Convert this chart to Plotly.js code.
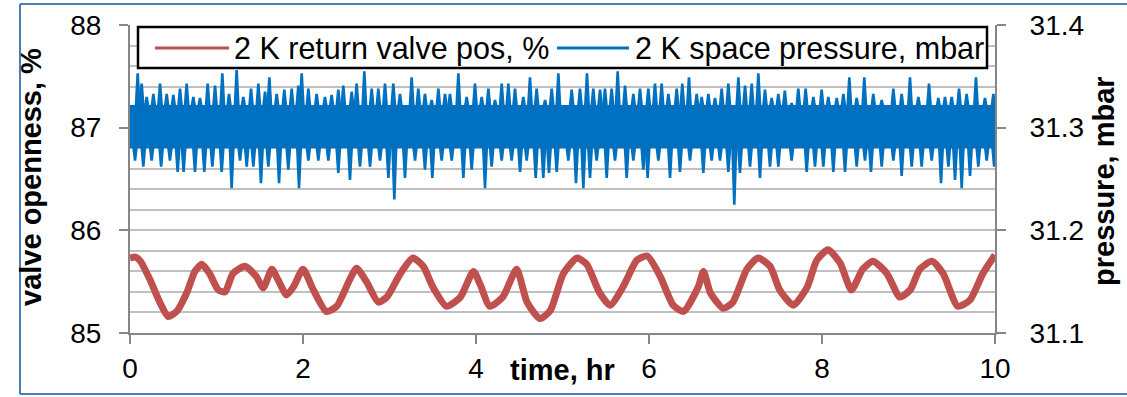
<!DOCTYPE html>
<html>
<head>
<meta charset="utf-8">
<script src="https://cdn.plot.ly/plotly-3.0.1.min.js"></script>
<style>html,body{margin:0;padding:0;background:#fff;}#chart{width:1127px;height:397px;}</style>
</head>
<body>
<div id="chart"></div>
<script>
// ---- data ----
const xTickVals = [0, 2, 4, 6, 8, 10];
const leftTickVals = [85, 86, 87, 88];
const rightTickVals = [31.1, 31.2, 31.3, 31.4];
const seriesNames = ["2 K return valve pos, %", "2 K space pressure, mbar"];
const axisTitles = {x: "time, hr", yLeft: "valve openness, %", yRight: "pressure, mbar"};

// 2 K return valve position (%)
const valveT = [0,0.06,0.12,0.23,0.35,0.44,0.54,0.66,0.75,0.83,0.92,1.02,1.10,1.19,1.33,1.46,1.54,1.64,1.71,1.81,1.89,2.00,2.12,2.27,2.39,2.54,2.62,2.74,2.87,2.97,3.12,3.27,3.39,3.50,3.66,3.82,3.97,4.05,4.16,4.31,4.47,4.59,4.74,4.86,5.01,5.17,5.28,5.43,5.55,5.70,5.86,5.98,6.13,6.28,6.40,6.57,6.63,6.71,6.86,6.97,7.13,7.26,7.40,7.51,7.67,7.83,7.94,8.07,8.21,8.34,8.47,8.59,8.75,8.90,9.02,9.13,9.27,9.40,9.57,9.71,9.86,10.0];
const valvePos = [85.73,85.74,85.70,85.52,85.29,85.16,85.21,85.40,85.60,85.67,85.58,85.42,85.40,85.58,85.65,85.55,85.44,85.62,85.52,85.37,85.45,85.62,85.42,85.21,85.26,85.52,85.63,85.49,85.30,85.35,85.57,85.73,85.65,85.45,85.26,85.35,85.60,85.47,85.26,85.35,85.62,85.30,85.14,85.22,85.58,85.73,85.67,85.39,85.27,85.45,85.71,85.75,85.55,85.27,85.21,85.45,85.60,85.39,85.24,85.30,85.62,85.73,85.65,85.42,85.27,85.45,85.71,85.81,85.68,85.42,85.62,85.70,85.58,85.35,85.42,85.62,85.70,85.58,85.26,85.32,85.58,85.76];

// 2 K space pressure (mbar): dense core band of the noisy trace
const pressCoreT  = [0, 2.5, 5, 7.5, 10];
const pressCoreHi = [31.322, 31.322, 31.322, 31.322, 31.322];
const pressCoreLo = [31.280, 31.280, 31.280, 31.280, 31.280];
// upward spikes (time, peak mbar)
const spikeUpT = [0.089,0.135,0.193,0.270,0.347,0.424,0.501,0.578,0.655,0.732,0.809,0.898,0.983,1.067,1.145,1.233,1.310,1.399,1.484,1.561,1.611,1.696,1.784,1.869,1.946,1.985,2.062,2.158,2.254,2.331,2.408,2.466,
  2.563,2.620,2.709,2.794,2.871,2.948,3.044,3.121,3.256,3.333,3.410,3.487,3.565,3.642,3.699,3.796,3.892,3.988,4.066,4.143,4.220,4.297,4.374,4.451,4.547,4.624,4.701,4.798,4.875,4.952,
  5.106,5.202,5.283,5.356,5.434,5.491,5.568,5.638,5.723,5.819,5.896,5.992,6.069,6.146,6.224,6.320,6.385,6.462,6.551,6.609,6.686,6.763,6.840,6.917,7.033,7.110,7.187,7.264,7.341,7.418,7.495,7.570,
  7.649,7.726,7.811,7.900,7.996,8.073,8.170,8.247,8.316,8.401,8.489,8.593,8.690,8.825,8.921,9.017,9.114,9.237,9.345,9.422,9.499,9.584,9.672,9.780,9.884,9.981];
const spikeUpV = [31.353,31.343,31.330,31.333,31.343,31.333,31.332,31.338,31.343,31.330,31.329,31.343,31.341,31.353,31.333,31.356,31.330,31.338,31.343,31.335,31.349,31.333,31.337,31.338,31.341,31.353,31.338,31.333,31.330,31.332,31.337,31.341,
  31.335,31.343,31.355,31.338,31.338,31.343,31.343,31.333,31.349,31.338,31.333,31.327,31.338,31.333,31.333,31.353,31.330,31.343,31.330,31.338,31.327,31.343,31.343,31.338,31.330,31.349,31.338,31.327,31.338,31.353,
  31.337,31.338,31.353,31.338,31.337,31.338,31.338,31.355,31.341,31.333,31.338,31.338,31.343,31.343,31.333,31.338,31.343,31.349,31.333,31.330,31.333,31.329,31.338,31.343,31.349,31.341,31.343,31.353,31.337,31.329,31.333,31.336,
  31.324,31.338,31.338,31.330,31.337,31.330,31.329,31.333,31.349,31.329,31.349,31.333,31.327,31.338,31.333,31.349,31.330,31.343,31.329,31.330,31.330,31.338,31.333,31.349,31.329,31.333];
// downward spikes (time, trough mbar)
const spikeDownT = [0.058,0.154,0.250,0.360,0.462,0.551,0.620,0.751,0.859,0.952,1.060,1.175,1.272,1.349,1.426,1.514,1.599,1.723,1.830,1.954,2.062,2.177,2.293,2.408,
  2.543,2.659,2.775,2.890,2.987,3.056,3.179,3.295,3.410,3.495,3.603,3.719,3.854,3.950,4.104,4.181,4.297,4.412,4.509,4.586,4.690,4.778,4.844,4.933,
  5.067,5.156,5.241,5.318,5.395,5.511,5.607,5.742,5.819,5.934,5.984,6.108,6.243,6.358,6.474,6.628,6.724,6.821,6.917,6.986,7.052,7.168,7.283,7.399,7.495,
  7.649,7.823,7.919,8.015,8.131,8.266,8.401,8.497,8.566,8.690,8.825,8.921,9.037,9.152,9.268,9.376,9.461,9.538,9.615,9.711,9.807,9.904,9.990];
const spikeDownV = [31.268,31.262,31.268,31.262,31.268,31.257,31.257,31.257,31.257,31.262,31.257,31.241,31.268,31.262,31.262,31.246,31.262,31.246,31.259,31.241,31.268,31.268,31.268,31.256,
  31.249,31.262,31.262,31.268,31.251,31.230,31.251,31.268,31.259,31.251,31.268,31.268,31.251,31.259,31.241,31.262,31.268,31.268,31.257,31.268,31.251,31.251,31.256,31.257,
  31.268,31.246,31.241,31.251,31.268,31.251,31.268,31.251,31.268,31.259,31.251,31.268,31.251,31.257,31.268,31.256,31.268,31.268,31.257,31.225,31.256,31.262,31.251,31.262,31.262,
  31.268,31.257,31.262,31.262,31.257,31.257,31.262,31.268,31.257,31.262,31.268,31.253,31.262,31.262,31.268,31.246,31.262,31.249,31.241,31.253,31.262,31.268,31.262];

// ---- styling ----
const RED = '#C0504D', BLUE = '#0070C0', GRID = '#C0C0C0', AXIS = '#868686';
const FONT = 'Liberation Sans, Arial, sans-serif';
const SPIKE_HALF = 0.022;   // half base width of a spike, hr (style)

// spikes as narrow filled triangles rising from the core band edge to each read peak
const spikeX = [], spikeY = [];
spikeUpT.forEach((t, i) => {
  const b = pressCoreHi[0] - 0.004;
  spikeX.push(t - SPIKE_HALF, t, t + SPIKE_HALF, null); spikeY.push(b, spikeUpV[i], b, null);
});
spikeDownT.forEach((t, i) => {
  const b = pressCoreLo[0] + 0.004;
  spikeX.push(t - SPIKE_HALF, t, t + SPIKE_HALF, null); spikeY.push(b, spikeDownV[i], b, null);
});

const traces = [
  {x: valveT, y: valvePos, name: seriesNames[0], type: 'scatter', mode: 'lines', yaxis: 'y',
   line: {color: RED, width: 7, shape: 'spline', smoothing: 0.6}, hoverinfo: 'skip'},
  {x: pressCoreT, y: pressCoreLo, type: 'scatter', mode: 'lines', yaxis: 'y2', xaxis: 'x',
   line: {color: BLUE, width: 0}, showlegend: false, hoverinfo: 'skip'},
  {x: pressCoreT, y: pressCoreHi, name: seriesNames[1], type: 'scatter', mode: 'lines', yaxis: 'y2',
   fill: 'tonexty', fillcolor: BLUE, line: {color: BLUE, width: 0}, hoverinfo: 'skip'},
  {x: spikeX, y: spikeY, type: 'scatter', mode: 'lines', yaxis: 'y2', connectgaps: false,
   fill: 'toself', fillcolor: BLUE,
   line: {color: BLUE, width: 2.6}, showlegend: false, hoverinfo: 'skip'}
];

const W = 1127, H = 397, L = 130, R = 132, T = 25, B = 64;
const pw = W - L - R, ph = H - T - B;
const px = v => (v - L) / pw;          // pixel -> paper x
const py = v => (H - B - v) / ph;      // pixel -> paper y

const layout = {
  width: W, height: H,
  margin: {l: L, r: R, t: T, b: B, pad: 0},
  paper_bgcolor: '#fff', plot_bgcolor: '#fff',
  showlegend: false,
  font: {family: FONT, size: 28, color: '#000'},
  xaxis: {range: [0, 10], tickvals: xTickVals, ticktext: xTickVals.map(String),
    showgrid: false, zeroline: false, showline: true, linecolor: AXIS, linewidth: 2,
    ticks: 'outside', ticklen: 9, tickwidth: 2, tickcolor: AXIS, ticklabelstandoff: 0,
    tickfont: {family: FONT, size: 28, color: '#000'}, fixedrange: true},
  yaxis: {range: [85, 88], tickvals: leftTickVals, ticktext: leftTickVals.map(String),
    showgrid: true, gridcolor: GRID, gridwidth: 2, zeroline: false,
    showline: true, linecolor: AXIS, linewidth: 2,
    ticks: 'outside', ticklen: 9, tickwidth: 2, tickcolor: AXIS, ticklabelstandoff: 12,
    minor: {dtick: 0.2, showgrid: true, gridcolor: GRID, gridwidth: 2, ticks: ''},
    tickfont: {family: FONT, size: 28, color: '#000'}, fixedrange: true},
  yaxis2: {range: [31.1, 31.4], tickvals: rightTickVals, ticktext: rightTickVals.map(v => v.toFixed(1)),
    overlaying: 'y', side: 'right', showgrid: false, zeroline: false,
    showline: true, linecolor: AXIS, linewidth: 2,
    ticks: 'outside', ticklen: 9, tickwidth: 2, tickcolor: AXIS, ticklabelstandoff: 18,
    tickfont: {family: FONT, size: 28, color: '#000'}, fixedrange: true},
  shapes: [
    // outer blue frame
    {type: 'line', xref: 'paper', yref: 'paper', x0: px(20), x1: px(20), y0: py(4), y1: py(394), line: {color: '#4A7EBB', width: 2}, layer: 'above'},
    {type: 'line', xref: 'paper', yref: 'paper', x0: px(20), x1: px(1140), y0: py(4), y1: py(4), line: {color: '#4A7EBB', width: 2}, layer: 'above'},
    {type: 'line', xref: 'paper', yref: 'paper', x0: px(20), x1: px(1140), y0: py(394), y1: py(394), line: {color: '#4A7EBB', width: 2}, layer: 'above'},
    // legend box
    {type: 'rect', xref: 'paper', yref: 'paper', x0: px(138), x1: px(987), y0: py(68), y1: py(27),
     fillcolor: '#fff', line: {color: '#000', width: 2.5}, layer: 'above'},
    {type: 'line', xref: 'paper', yref: 'paper', x0: px(155), x1: px(229), y0: py(48), y1: py(48), line: {color: RED, width: 3}, layer: 'above'},
    {type: 'line', xref: 'paper', yref: 'paper', x0: px(557), x1: px(629), y0: py(48), y1: py(48), line: {color: BLUE, width: 3}, layer: 'above'}
  ],
  annotations: [
    {xref: 'paper', yref: 'paper', x: px(232), y: py(48), xanchor: 'left', yanchor: 'middle', showarrow: false,
     text: seriesNames[0], font: {family: FONT, size: 30.5, color: '#000'}},
    {xref: 'paper', yref: 'paper', x: px(633), y: py(48), xanchor: 'left', yanchor: 'middle', showarrow: false,
     text: seriesNames[1], font: {family: FONT, size: 30.5, color: '#000'}},
    {xref: 'paper', yref: 'paper', x: px(562), y: py(370), xanchor: 'center', yanchor: 'middle', showarrow: false,
     text: axisTitles.x, font: {family: FONT, size: 29, color: '#000', weight: 'bold'}},
    {xref: 'paper', yref: 'paper', x: px(31), y: py(177), xanchor: 'center', yanchor: 'middle', showarrow: false, textangle: -90,
     text: axisTitles.yLeft, font: {family: FONT, size: 29, color: '#000', weight: 'bold'}},
    {xref: 'paper', yref: 'paper', x: px(1104), y: py(181), xanchor: 'center', yanchor: 'middle', showarrow: false, textangle: -90,
     text: axisTitles.yRight, font: {family: FONT, size: 29, color: '#000', weight: 'bold'}}
  ]
};

Plotly.newPlot('chart', traces, layout, {staticPlot: true, displayModeBar: false});
</script>
</body>
</html>
